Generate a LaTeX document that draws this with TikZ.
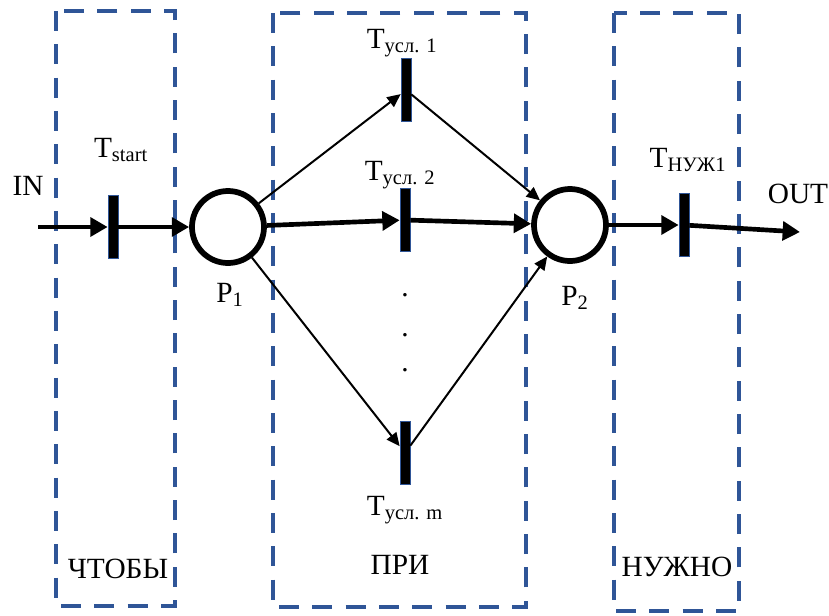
\documentclass[tikz,border=0pt]{standalone}
\usepackage{fontspec}
\setmainfont{Liberation Serif}
\usetikzlibrary{arrows.meta,positioning}
\definecolor{zoneblue}{HTML}{2F5597}

\begin{document}
\begin{tikzpicture}[
  x=0.75pt,y=-0.75pt,
  font=\fontsize{22}{26}\selectfont,
  zone/.style={draw=zoneblue,line width=2.6pt,dash pattern=on 15pt off 10pt},
  place/.style={circle,draw,line width=4.3pt,minimum size=54pt,inner sep=0pt},
  trans/.style={rectangle,draw=zoneblue,fill=black,line width=0.5pt,
                minimum width=7.5pt,minimum height=47pt,inner sep=0pt},
  bigarr/.style={-{Triangle[length=13pt,width=14pt]},line width=3.5pt},
  arr/.style={-{Triangle[length=10pt,width=9pt]},line width=1.5pt},
  lbl/.style={inner sep=1pt}
]
\useasboundingbox (0,0) rectangle (829,615);
% zones
\draw[zone] (56,11) rectangle (175,606);
\draw[zone] (273,13) rectangle (526,607);
\draw[zone] (614,13) rectangle (739,611);
\node[lbl] (zleft) at (118,569) {ЧТОБЫ};
\node[lbl] (zmid) at (400,565) {ПРИ};
\node[lbl] (zright) at (677,567) {НУЖНО};
% places and transitions
\node[place] (p1) at (228,227) {};
\node[place] (p2) at (570,225) {};
\node[trans] (tstart) at (113,227) {};
\node[trans] (t1) at (406,90) {};
\node[trans] (t2) at (405,220) {};
\node[trans] (tm) at (405,453) {};
\node[trans] (tn) at (684,225) {};
\coordinate (in) at (38,227);
\coordinate (out) at (800,232);
% labels
\node[lbl] (inlbl) at (28,186) {IN};
\node[lbl] (outlbl) at (798,194) {OUT};
\node[lbl] (tstartlbl) at (121,150) {T\textsubscript{start}};
\node[lbl] (t1lbl) at (402,43) {T\textsubscript{усл. 1}};
\node[lbl] (t2lbl) at (400,175) {T\textsubscript{усл. 2}};
\node[lbl] (tmlbl) at (405,510) {T\textsubscript{усл. m}};
\node[lbl] (tnlbl) at (688,160) {T\textsubscript{НУЖ1}};
\node[lbl] (p1lbl) at (230,295) {P\textsubscript{1}};
\node[lbl] (p2lbl) at (575,298) {P\textsubscript{2}};
\node[lbl] (dot1) at (405,295) {.};
\node[lbl] (dot2) at (405,335) {.};
\node[lbl] (dot3) at (405,370) {.};
% arcs
\draw[bigarr] (in) -- (tstart);
\draw[bigarr] (tstart) -- (p1);
\draw[bigarr] (p1) -- (t2);
\draw[bigarr] (t2) -- (p2);
\draw[bigarr] (p2) -- (tn);
\draw[bigarr] (tn) -- (out);
\draw[arr] (p1) -- (t1);
\draw[arr] (t1) -- (p2);
\draw[arr] (p1) -- (tm);
\draw[arr] (tm) -- (p2);
\end{tikzpicture}
\end{document}
